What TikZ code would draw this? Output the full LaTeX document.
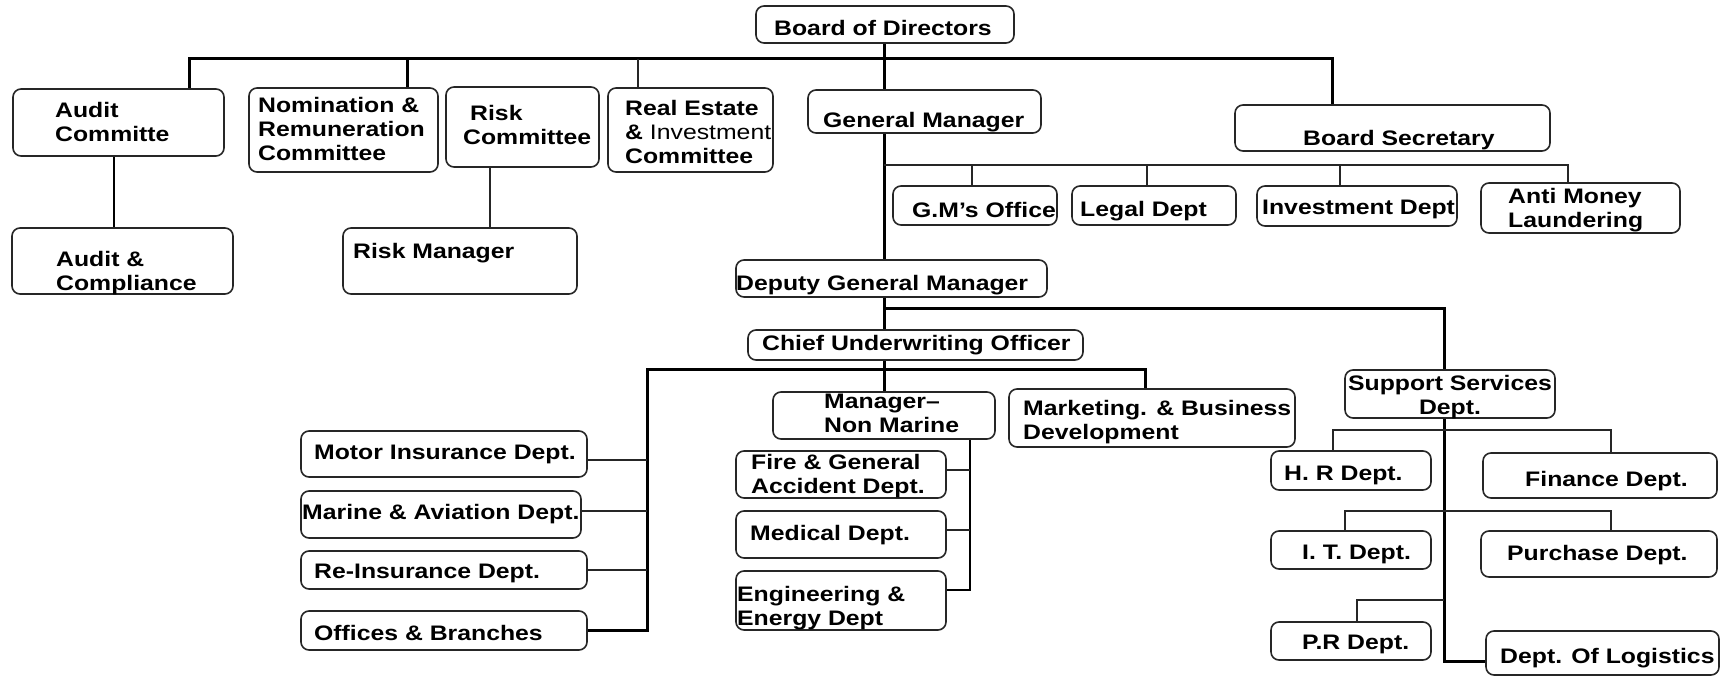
\documentclass[tikz,border=0pt]{standalone}
\usepackage{fontspec}
\setmainfont{Liberation Sans}[FakeStretch=1.18]
\usetikzlibrary{fit,backgrounds}
\newcommand{\bx}[5]{\node[box, fit={(#2,#3) (#4,#5)}] (#1) {};}
\begin{document}
\begin{tikzpicture}[x=1pt,y=-1pt,
  box/.style={draw=black!85, line width=1.6pt, rounded corners=8pt, fill=white, inner sep=0pt},
  txt/.style={anchor=north west, inner sep=0pt, align=left, font=\fontsize{21}{24}\selectfont\bfseries},
  thk/.style={line width=3pt},
  med/.style={line width=2pt},
  thn/.style={line width=1.4pt, draw=black!85}]
\useasboundingbox (0,0) rectangle (1723,676);
% boxes
\bx{bod}{756}{6}{1014}{43}
\bx{auditc}{13}{89}{224}{156}
\bx{nom}{249}{88}{438}{172}
\bx{riskc}{446}{87}{599}{167}
\bx{reic}{608}{88}{773}{172}
\bx{gm}{808}{90}{1041}{133}
\bx{bsec}{1235}{105}{1550}{151}
\bx{ac}{12}{228}{233}{294}
\bx{riskm}{343}{228}{577}{294}
\bx{gmo}{893}{186}{1057}{225}
\bx{legal}{1072}{186}{1236}{225}
\bx{invd}{1257}{186}{1457}{226}
\bx{aml}{1481}{183}{1680}{233}
\bx{dgm}{736}{260}{1047}{297}
\bx{cuo}{748}{330}{1083}{360}
\bx{mnm}{773}{392}{995}{439}
\bx{mkt}{1009}{389}{1295}{447}
\bx{ssd}{1345}{370}{1555}{418}
\bx{motor}{301}{431}{587}{477}
\bx{marine}{301}{491}{581}{538}
\bx{reins}{301}{551}{587}{589}
\bx{offices}{301}{611}{587}{650}
\bx{fire}{736}{451}{946}{498}
\bx{medical}{736}{511}{946}{558}
\bx{eng}{736}{571}{946}{630}
\bx{hr}{1271}{451}{1431}{490}
\bx{fin}{1483}{453}{1717}{498}
\bx{it}{1271}{531}{1431}{569}
\bx{pur}{1481}{531}{1717}{577}
\bx{pr}{1271}{622}{1431}{660}
\bx{log}{1486}{631}{1719}{675}
% texts
\node[txt] (bod-t) at (774,20) {Board of Directors};
\node[txt] (auditc-t) at (55,102) {Audit\\Committe};
\node[txt] (nom-t) at (258,97) {Nomination \&\\Remuneration\\Committee};
\node[txt] (riskc-t) at (463,105) {\hspace*{7pt}Risk\\Committee};
\node[txt] (reic-t) at (625,100) {Real Estate\\\& {\mdseries Investment}\\Committee};
\node[txt] (gm-t) at (823,112) {General Manager};
\node[txt] (bsec-t) at (1303,130) {Board Secretary};
\node[txt] (ac-t) at (56,251) {Audit \&\\Compliance};
\node[txt] (riskm-t) at (353,243) {Risk Manager};
\node[txt] (gmo-t) at (912,202) {G.M’s Office};
\node[txt] (legal-t) at (1080,201) {Legal Dept};
\node[txt] (invd-t) at (1262,200) {Investment Dept};
\node[txt] (aml-t) at (1508,188) {Anti Money\\Laundering};
\node[txt] (dgm-t) at (736,275) {Deputy General Manager};
\node[txt] (cuo-t) at (762,335) {Chief Underwriting Officer};
\node[txt] (mnm-t) at (824,394) {Manager–\\Non Marine};
\node[txt] (mkt-t) at (1023,400) {Marketing. \& Business\\Development};
\node[txt, anchor=north, align=center] (ssd-t) at (1450,375) {Support Services\\Dept.};
\node[txt] (motor-t) at (314,445) {Motor Insurance Dept.};
\node[txt] (marine-t) at (302,504) {Marine \& Aviation Dept.};
\node[txt] (reins-t) at (314,564) {Re-Insurance Dept.};
\node[txt] (offices-t) at (314,625) {Offices \& Branches};
\node[txt] (fire-t) at (751,454) {Fire \& General\\Accident Dept.};
\node[txt] (med-t) at (750,525) {Medical Dept.};
\node[txt] (eng-t) at (737,586) {Engineering \&\\Energy Dept};
\node[txt] (hr-t) at (1284,466) {H. R Dept.};
\node[txt] (fin-t) at (1525,471) {Finance Dept.};
\node[txt] (it-t) at (1302,545) {I. T. Dept.};
\node[txt] (pur-t) at (1507,545) {Purchase Dept.};
\node[txt] (pr-t) at (1302,635) {P.R Dept.};
\node[txt] (log-t) at (1500,648) {Dept. Of Logistics};
% connectors
\begin{scope}[on background layer]
\coordinate (j1) at (189,59);
\coordinate (j2) at (1332,59);
\coordinate (j3) at (407,59);
\coordinate (j4) at (638,59);
\coordinate (jm) at (884,59);
\draw[thk] (j1 |- auditc.north) -- (j1) -- (j2) -- (j2 |- bsec.north);
\draw[thk] (j3) -- (j3 |- nom.north);
\draw[thn] (j4) -- (j4 |- reic.north);
\draw[thk] (jm |- bod.south) -- (jm |- gm.north);
\draw[thk] (jm |- gm.south) -- (jm |- dgm.north);
% GM offices
\coordinate (g0) at (884,165);
\coordinate (g5) at (1568,165);
\coordinate (g1) at (972,165);
\coordinate (g2) at (1147,165);
\coordinate (g3) at (1340,165);
\draw[thn] (g0) -- (g5) -- (g5 |- aml.north);
\draw[thn] (g1) -- (g1 |- gmo.north);
\draw[thn] (g2) -- (g2 |- legal.north);
\draw[thn] (g3) -- (g3 |- invd.north);
% committees
\coordinate (a1) at (114,0);
\draw[med] (a1 |- auditc.south) -- (a1 |- ac.north);
\coordinate (r1) at (490,0);
\draw[thn] (r1 |- riskc.south) -- (r1 |- riskm.north);
% DGM
\draw[thk] (jm |- dgm.south) -- (jm |- cuo.north);
\draw[thk] (jm |- cuo.south) -- (jm |- mnm.north);
\coordinate (d1) at (884,308);
\coordinate (d2) at (1444,308);
\coordinate (d3) at (1444,661);
\draw[thk] (d1) -- (d2) -- (d3) -- (d3 -| log.west);
% CUO branches
\coordinate (c1) at (647,369);
\coordinate (c2) at (1145,369);
\coordinate (c3) at (647,630);
\draw[thk] (c3 -| offices.east) -- (c3) -- (c1) -- (c2) -- (c2 |- mkt.north);
\coordinate (cm1) at (647,460);
\coordinate (cm2) at (647,511);
\coordinate (cm3) at (647,570);
\draw[thn] (cm1) -- (cm1 -| motor.east);
\draw[thn] (cm2) -- (cm2 -| marine.east);
\draw[thn] (cm3) -- (cm3 -| reins.east);
% Non marine
\coordinate (n1) at (970,0);
\coordinate (n2) at (970,590);
\coordinate (nf) at (970,470);
\coordinate (nm) at (970,530);
\draw[med] (n1 |- mnm.south) -- (n2) -- (n2 -| eng.east);
\draw[thn] (nf) -- (nf -| fire.east);
\draw[thn] (nm) -- (nm -| medical.east);
% support services
\coordinate (h1) at (1333,430);
\coordinate (h2) at (1611,430);
\draw[thn] (h1 |- hr.north) -- (h1) -- (h2) -- (h2 |- fin.north);
\coordinate (i1) at (1345,511);
\coordinate (i2) at (1611,511);
\draw[thn] (i1 |- it.north) -- (i1) -- (i2) -- (i2 |- pur.north);
\coordinate (p0) at (1444,600);
\coordinate (p1) at (1357,600);
\draw[thn] (p0) -- (p1) -- (p1 |- pr.north);
\end{scope}
\end{tikzpicture}
\end{document}
